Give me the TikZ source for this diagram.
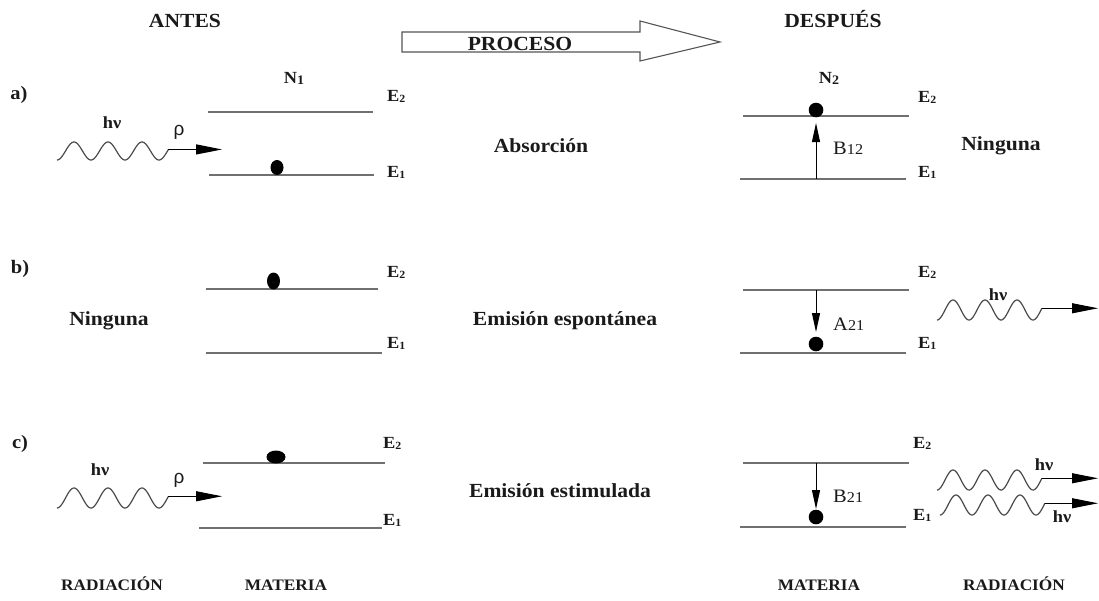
\documentclass[tikz,border=0pt]{standalone}
\usepackage{fontspec}
\setmainfont{Liberation Serif}[FakeStretch=1.08]
\newfontfamily\sansf{Liberation Sans}
\usetikzlibrary{arrows.meta}
\definecolor{ink}{HTML}{1A1A1A}
\definecolor{lvlgray}{HTML}{707070}
\definecolor{wavegray}{HTML}{4A4A4A}
\definecolor{boxgray}{HTML}{555555}
\newcommand\drawwave[5]{%
  \draw[wave] plot[domain=0:1180,samples=160] ({#1+\x/360*#4},{#2+#3*cos(\x)});
  \coordinate (#5) at ({#1+1180/360*#4},{#2+#3*cos(1180)});}
\newcommand\Esub[2]{E{\fontsize{11}{11}\selectfont\raisebox{-1pt}{#2}}}
\begin{document}
\begin{tikzpicture}[x=1pt,y=-1pt,
  big/.style={font=\fontsize{20}{22}\selectfont\bfseries, text=ink, inner sep=0pt, anchor=base},
  small/.style={font=\fontsize{16}{19}\selectfont\bfseries, text=ink, inner sep=0pt, anchor=base},
  rowlab/.style={font=\fontsize{19}{21}\selectfont\bfseries, text=ink, inner sep=0pt, anchor=base},
  elab/.style={font=\fontsize{17}{19}\selectfont\bfseries, text=ink, inner sep=0pt, anchor=base west},
  coef/.style={font=\fontsize{19}{21}\selectfont, text=ink, inner sep=0pt, anchor=base west},
  rholab/.style={font=\sansf\fontsize{19}{21}\selectfont, text=ink, inner sep=0pt, anchor=base},
  hvlab/.style={font=\fontsize{17}{19}\selectfont\bfseries, text=ink, inner sep=0pt, anchor=base},
  lvl/.style={draw=lvlgray, line width=1.6pt},
  wave/.style={draw=wavegray, line width=1.2pt},
  ray/.style={draw=black, line width=1pt, -{Triangle[length=26pt,width=10pt]}},
  trans/.style={draw=black, line width=1pt, -{Triangle[length=19pt,width=8pt]}},
  dot/.style={fill=black}]
\useasboundingbox (0,0) rectangle (1099,600);

% headers
\node[big] (antes) at (185,27) {ANTES};
\node[big] (despues) at (833,27) {DESPUÉS};
\draw[draw=boxgray, line width=1.1pt] (402,32) -- (640,32) -- (640,21) -- (720,42) -- (640,61) -- (640,52) -- (402,52) -- cycle;
\node[big] (proceso) at (520,50) {PROCESO};

% ---------- row a ----------
\node[rowlab] (la) at (19,99) {a)};
\node[elab, anchor=base] (n1) at (294,83) {N\raisebox{-1pt}{\fontsize{13}{13}\selectfont 1}};
\node[elab, anchor=base] (n2) at (829,83) {N\raisebox{-1pt}{\fontsize{13}{13}\selectfont 2}};
\coordinate (a2s) at (208,112); \coordinate (a2e) at (373,112);
\coordinate (a1s) at (209,175); \coordinate (a1e) at (374,175);
\draw[lvl] (a2s) -- (a2e);
\draw[lvl] (a1s) -- (a1e);
\node[elab] (aE2) at (387,101) {\Esub{}{2}};
\node[elab] (aE1) at (387,177) {\Esub{}{1}};
\fill[dot] (277,167.5) ellipse [x radius=6.5, y radius=7.5];
\drawwave{57}{151}{9}{34}{wa}
\coordinate (pa) at (222,149);
\draw[ray] (wa) -- (wa -| pa);
\node[hvlab] (hva) at (112,128) {hν};
\node[rholab] (rhoa) at (179,135) {ρ};
\node[big] (absor) at (541,152) {Absorción};
\coordinate (ra2s) at (743,116); \coordinate (ra2e) at (909,116);
\coordinate (ra1s) at (740,179); \coordinate (ra1e) at (906,179);
\draw[lvl] (ra2s) -- (ra2e);
\draw[lvl] (ra1s) -- (ra1e);
\node[elab] (raE2) at (918,102) {\Esub{}{2}};
\node[elab] (raE1) at (918,177) {\Esub{}{1}};
\fill[dot] (816,110) circle [radius=7.3];
\coordinate (ua) at (816,179); \coordinate (ub) at (816,123);
\draw[trans] (ua) -- (ub);
\node[coef] (b12) at (833,154) {B{\fontsize{15}{15}\selectfont 12}};
\node[big] (ning1) at (1001,150) {Ninguna};

% ---------- row b ----------
\node[rowlab] (lb) at (20,273) {b)};
\node[big] (ning2) at (109,325) {Ninguna};
\coordinate (b2s) at (206,289); \coordinate (b2e) at (378,289);
\coordinate (b1s) at (206,353); \coordinate (b1e) at (382,353);
\draw[lvl] (b2s) -- (b2e);
\draw[lvl] (b1s) -- (b1e);
\node[elab] (bE2) at (387,277) {\Esub{}{2}};
\node[elab] (bE1) at (387,348) {\Esub{}{1}};
\fill[dot] (273.5,281) ellipse [x radius=6.5, y radius=8.5];
\node[big] (espont) at (565,325) {Emisión espontánea};
\coordinate (rb2s) at (743,290); \coordinate (rb2e) at (909,290);
\coordinate (rb1s) at (740,353); \coordinate (rb1e) at (906,353);
\draw[lvl] (rb2s) -- (rb2e);
\draw[lvl] (rb1s) -- (rb1e);
\node[elab] (rbE2) at (918,277) {\Esub{}{2}};
\node[elab] (rbE1) at (918,348) {\Esub{}{1}};
\coordinate (da) at (816,290); \coordinate (db) at (816,332);
\draw[trans] (da) -- (db);
\fill[dot] (816,344) circle [radius=7.3];
\node[coef] (a21) at (833,330) {A{\fontsize{15}{15}\selectfont 21}};
\drawwave{937}{310}{10}{32}{wb}
\coordinate (pb) at (1098,307);
\draw[ray] (wb) -- (wb -| pb);
\node[hvlab] (hvb) at (998,300) {hν};

% ---------- row c ----------
\node[rowlab] (lc) at (20,448) {c)};
\coordinate (c2s) at (203,463); \coordinate (c2e) at (385,463);
\coordinate (c1s) at (199,528); \coordinate (c1e) at (382,528);
\draw[lvl] (c2s) -- (c2e);
\draw[lvl] (c1s) -- (c1e);
\node[elab] (cE2) at (383,448) {\Esub{}{2}};
\node[elab] (cE1) at (383,525) {\Esub{}{1}};
\fill[dot] (276,457) ellipse [x radius=9.5, y radius=6.5];
\drawwave{57}{498}{10}{34}{wc}
\coordinate (pc) at (222,496);
\draw[ray] (wc) -- (wc -| pc);
\node[hvlab] (hvc) at (100,475) {hν};
\node[rholab] (rhoc) at (179,483) {ρ};
\node[big] (estim) at (560,497) {Emisión estimulada};
\coordinate (rc2s) at (743,463); \coordinate (rc2e) at (909,463);
\coordinate (rc1s) at (740,527); \coordinate (rc1e) at (906,527);
\draw[lvl] (rc2s) -- (rc2e);
\draw[lvl] (rc1s) -- (rc1e);
\node[elab] (rcE2) at (913,448) {\Esub{}{2}};
\node[elab] (rcE1) at (913,520) {\Esub{}{1}};
\coordinate (ea) at (816,463); \coordinate (eb) at (816,509);
\draw[trans] (ea) -- (eb);
\fill[dot] (816,517) circle [radius=7.3];
\node[coef] (b21) at (833,502) {B{\fontsize{15}{15}\selectfont 21}};
\drawwave{937}{480}{10}{32}{wu}
\coordinate (pu) at (1098,477);
\draw[ray] (wu) -- (wu -| pu);
\drawwave{940}{505}{10}{32}{wl}
\coordinate (pl) at (1098,497);
\draw[ray] (wl) -- (wl -| pl);
\node[hvlab] (hvu) at (1044,470) {hν};
\node[hvlab] (hvl) at (1062,522) {hν};

% ---------- bottom ----------
\node[small] (rad1) at (112,590) {RADIACIÓN};
\node[small] (mat1) at (286,590) {MATERIA};
\node[small] (mat2) at (819,590) {MATERIA};
\node[small] (rad2) at (1014,590) {RADIACIÓN};
\end{tikzpicture}
\end{document}
